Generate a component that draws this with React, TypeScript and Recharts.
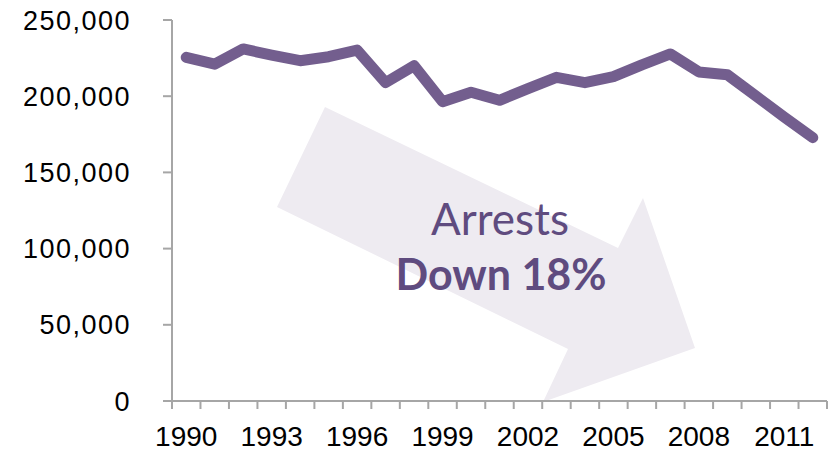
import React from 'react';
import { ComposedChart, Line, XAxis, YAxis } from 'recharts';

const years = [1990, 1991, 1992, 1993, 1994, 1995, 1996, 1997, 1998, 1999, 2000, 2001, 2002, 2003, 2004, 2005, 2006, 2007, 2008, 2009, 2010, 2011, 2012];
const arrests = [225500, 221000, 231000, 227000, 223300, 225900, 230300, 208900, 220000, 196400, 202600, 197300, 205000, 212400, 208900, 212800, 220500, 227700, 215900, 214100, 200200, 186300, 172800];
const labelYears = [1990, 1993, 1996, 1999, 2002, 2005, 2008, 2011];
const yTicks = [0, 50000, 100000, 150000, 200000, 250000];

const W = 834;
const H = 453;
const M = { top: 20, right: 7, left: 0, bottom: 0 };
const Y_W = 172;
const PLOT_W = W - M.left - M.right - Y_W;
const BAND = PLOT_W / years.length;

const AXIS = '#A6A6A6';
const LINE = '#735E8E';
const TEXT = '#5F4B7F';

const data = years.map((year, i) => ({ year, arrests: arrests[i] }));
const boundaries = [...years.map(y => y - 0.5), years[years.length - 1] + 0.5];

const XTick = (props: any) => {
    const { x, y, payload } = props;
    const yr = payload.value + 0.5;
    if (!labelYears.includes(yr)) return <g />;
    return (
        <text x={x + BAND / 2} y={y} dy="0.71em" textAnchor="middle" fontSize={28} fill="#000" fontFamily="'Liberation Sans', Arial, sans-serif">
            {yr}
        </text>
    );
};

const App: React.FC = () => {
    return (
        <div style={{ position: 'absolute', left: 0, top: 0, width: W, height: H, background: '#fff' }}>
            {/* arrow annotation, drawn under the chart */}
            <svg width={W} height={H} style={{ position: 'absolute', left: 0, top: 0 }}>
                <polygon
                    points="325,107 277,207 568,349 543,402 695,348 643,198 618,248"
                    fill="#EEEBF1"
                />
                <text x={500} y={235} textAnchor="middle" fontSize={44} fill={TEXT} fontFamily="Lato, sans-serif">
                    Arrests
                </text>
                <text x={501} y={290} textAnchor="middle" fontSize={43} fontWeight="bold" fill={TEXT} fontFamily="Lato, sans-serif">
                    Down 18%
                </text>
            </svg>
            <div style={{ position: 'absolute', left: 0, top: 0 }}>
                <ComposedChart width={W} height={H} data={data} margin={M}>
                    <XAxis
                        type="number"
                        dataKey="year"
                        domain={[boundaries[0], boundaries[boundaries.length - 1]]}
                        ticks={boundaries}
                        interval={0}
                        height={H - M.top - M.bottom - 381}
                        tickSize={8}
                        tickMargin={17}
                        axisLine={{ stroke: AXIS, strokeWidth: 2 }}
                        tickLine={{ stroke: AXIS, strokeWidth: 2 }}
                        tick={<XTick />}
                    />
                    <YAxis
                        width={Y_W}
                        domain={[0, 250000]}
                        ticks={yTicks}
                        interval={0}
                        tickSize={9}
                        tickMargin={32}
                        axisLine={{ stroke: AXIS, strokeWidth: 2 }}
                        tickLine={{ stroke: AXIS, strokeWidth: 2 }}
                        tick={{ fontSize: 27, fill: '#000', fontFamily: "'Liberation Sans', Arial, sans-serif", letterSpacing: 1.5 }}
                        tickFormatter={(v: number) => v.toLocaleString('en-US')}
                    />
                    <Line
                        type="linear"
                        dataKey="arrests"
                        stroke={LINE}
                        strokeWidth={11}
                        strokeLinejoin="round"
                        strokeLinecap="round"
                        dot={false}
                        activeDot={false}
                        isAnimationActive={false}
                    />
                </ComposedChart>
            </div>
        </div>
    );
};

export default App;
